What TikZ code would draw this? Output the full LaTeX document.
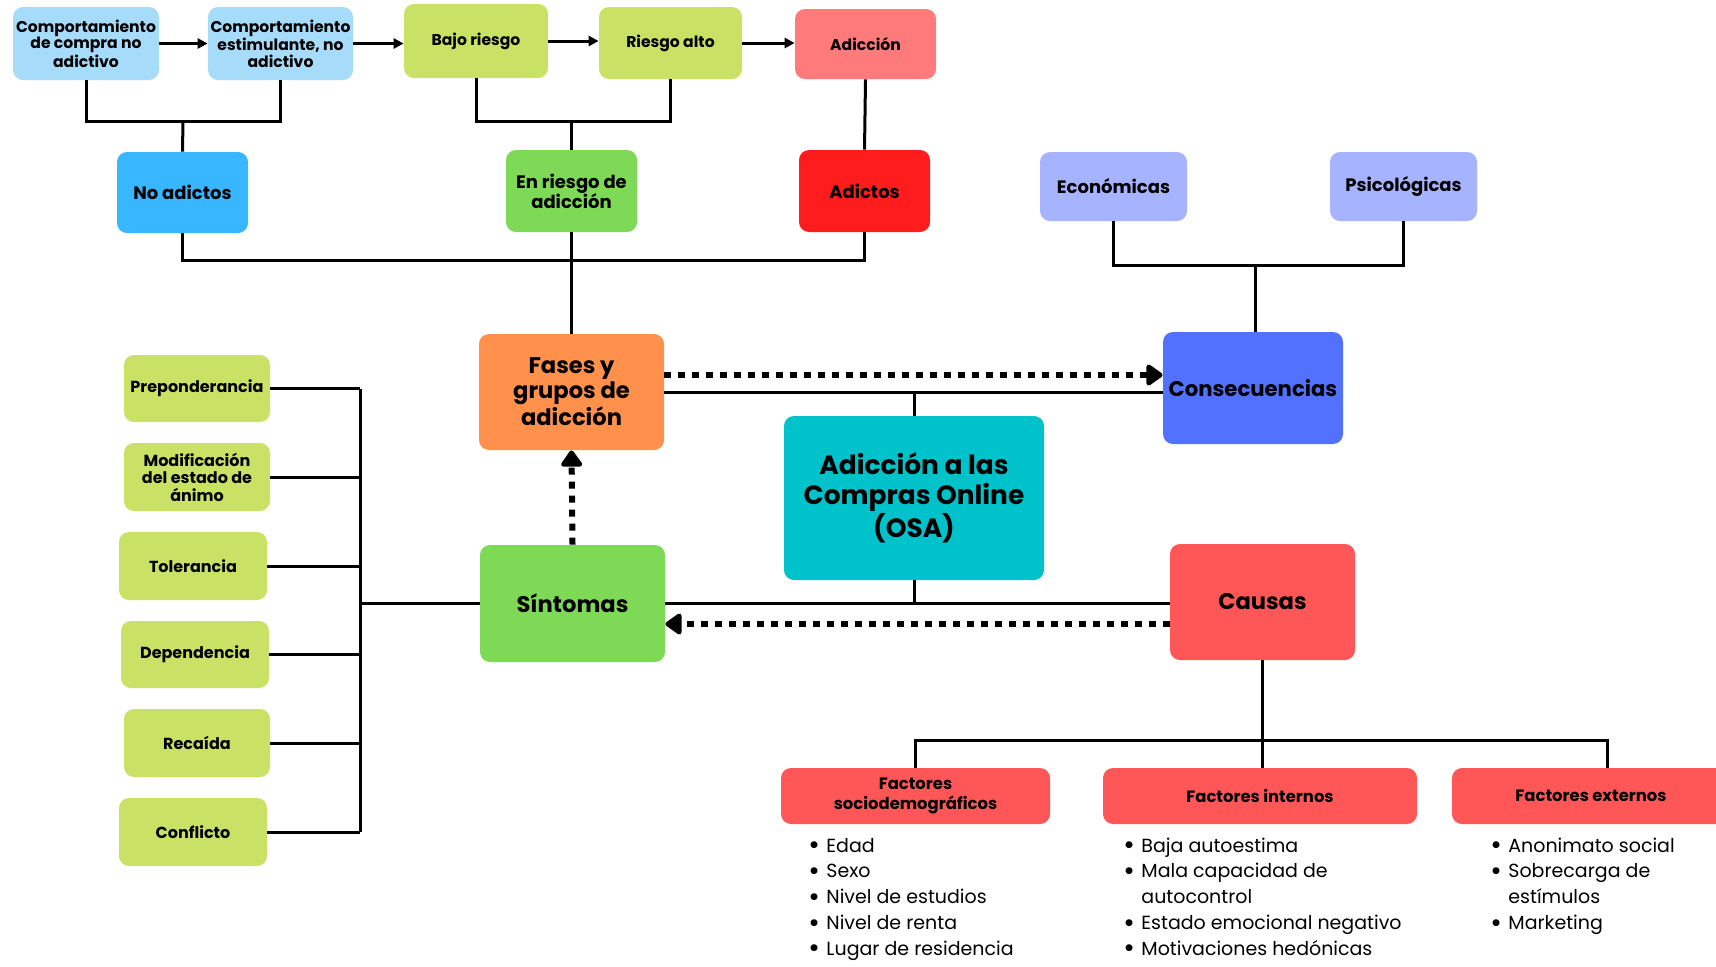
\documentclass[tikz,border=0pt]{standalone}
\usepackage{fontspec}
\setmainfont{Poppins}
\usetikzlibrary{arrows.meta,calc}
\definecolor{cLblue}{HTML}{A6DCFA}
\definecolor{cYgreen}{HTML}{C9E265}
\definecolor{cSalmon}{HTML}{FF7B7B}
\definecolor{cBlue}{HTML}{38B6FF}
\definecolor{cGreen}{HTML}{7ED957}
\definecolor{cRed}{HTML}{FF1C1C}
\definecolor{cLav}{HTML}{A6B4FF}
\definecolor{cOrange}{HTML}{FF914D}
\definecolor{cRoyal}{HTML}{5271FF}
\definecolor{cTeal}{HTML}{00C2CB}
\definecolor{cCoral}{HTML}{FF5757}
\newcommand\fsz[2]{\fontsize{#1}{#2}\selectfont\bfseries}
\newcommand\bul{\makebox[9pt][l]{\raisebox{-1.3pt}{\fontsize{14}{14}\selectfont\textbullet}}}
\newcommand\ind{\hspace*{9pt}}
\begin{document}
\begin{tikzpicture}[x=0.5pt,y=-0.5pt,
  box/.style={rounded corners=5pt, align=center, inner sep=1pt, text=black},
  conn/.style={line width=1.5pt},
  arr/.style={conn,-{Triangle[length=5pt,width=5pt]}},
  dotarr/.style={line width=3pt, dash pattern=on 3.5pt off 3.5pt,
     -{Triangle[length=9pt,width=12pt,round]}},
  list/.style={inner sep=0pt, anchor=base west, font=\fontsize{9.5}{12.9}\selectfont}
]
\clip (0,0) rectangle (1716,966);
\fill[white] (0,0) rectangle (1716,966);

% top row
\node[box,fill=cLblue,minimum width=73pt,minimum height=36.5pt,font=\fsz{7.8}{8.3}] (b1) at (86,43.5) {Comportamiento\\de compra no\\adictivo};
\node[box,fill=cLblue,minimum width=72.5pt,minimum height=36.5pt,font=\fsz{7.8}{8.3}] (b2) at (280.5,43.5) {Comportamiento\\estimulante, no\\adictivo};
\node[box,fill=cYgreen,minimum width=72pt,minimum height=37pt,font=\fsz{7.8}{8.3}] (bajo) at (476,41) {Bajo riesgo};
\node[box,fill=cYgreen,minimum width=71.5pt,minimum height=36pt,font=\fsz{7.8}{8.3}] (alto) at (670.5,43) {Riesgo alto};
\node[box,fill=cSalmon,minimum width=70.5pt,minimum height=35pt,font=\fsz{7.8}{8.3}] (adic) at (865.5,44) {Adicción};

% groups
\node[box,fill=cBlue,minimum width=65.5pt,minimum height=40.5pt,font=\fsz{9}{10}] (noad) at (182.5,192.5) {No adictos};
\node[box,fill=cGreen,minimum width=65.5pt,minimum height=41pt,font=\fsz{9}{10}] (riesgo) at (571.5,191) {En riesgo de\\adicción};
\node[box,fill=cRed,minimum width=65.5pt,minimum height=41pt,font=\fsz{9}{10}] (adictos) at (864.5,191) {Adictos};
\node[box,fill=cLav,minimum width=73.5pt,minimum height=34.5pt,font=\fsz{9}{10}] (econ) at (1113.5,186.5) {Económicas};
\node[box,fill=cLav,minimum width=73.5pt,minimum height=34.5pt,font=\fsz{9}{10}] (psico) at (1403.5,186.5) {Psicológicas};

% main
\node[box,fill=cOrange,minimum width=92.5pt,minimum height=58pt,font=\fsz{11.3}{12.5}] (fases) at (571.5,392) {Fases y\\grupos de\\adicción};
\node[box,fill=cRoyal,minimum width=90pt,minimum height=56pt,font=\fsz{10.6}{12.5}] (conse) at (1253,388) {Consecuencias};
\node[box,fill=cTeal,minimum width=130pt,minimum height=82pt,font=\fsz{13.2}{15}] (osa) at (914,498) {Adicción a las\\Compras Online\\(OSA)};
\node[box,fill=cGreen,minimum width=92.5pt,minimum height=58.5pt,font=\fsz{11.3}{12.5}] (sint) at (572.5,603.5) {Síntomas};
\node[box,fill=cCoral,minimum width=92.5pt,minimum height=58pt,font=\fsz{11.3}{12.5}] (causas) at (1262.5,602) {Causas};

% symptoms
\node[box,fill=cYgreen,minimum width=73pt,minimum height=33.5pt,font=\fsz{8}{8.75}] (prep) at (197,388.5) {Preponderancia};
\node[box,fill=cYgreen,minimum width=73pt,minimum height=34pt,font=\fsz{8}{8.75}] (modif) at (197,477) {Modificación\\del estado de\\ánimo};
\node[box,fill=cYgreen,minimum width=74pt,minimum height=34pt,font=\fsz{8}{8.75}] (toler) at (193,566) {Tolerancia};
\node[box,fill=cYgreen,minimum width=74pt,minimum height=33.5pt,font=\fsz{8}{8.75}] (depen) at (195,654.5) {Dependencia};
\node[box,fill=cYgreen,minimum width=73pt,minimum height=34pt,font=\fsz{8}{8.75}] (recai) at (197,743) {Recaída};
\node[box,fill=cYgreen,minimum width=74pt,minimum height=34pt,font=\fsz{8}{8.75}] (confl) at (193,832) {Conflicto};

% factors
\node[box,fill=cCoral,minimum width=134.5pt,minimum height=28pt,font=\fsz{8.2}{9.85}] (fsocio) at (915.5,796) {Factores\\sociodemográficos};
\node[box,fill=cCoral,minimum width=157pt,minimum height=28pt,font=\fsz{8.2}{9.85}] (fint) at (1260,796) {Factores internos};
\node[box,fill=cCoral,minimum width=139pt,minimum height=28pt,font=\fsz{8.2}{9.85}] (fext) at (1591,796) {Factores externos};

% lists
\node[list] (lsocio) at (808,852) {\begin{tabular}[t]{@{}l@{}}\bul Edad\\ \bul Sexo\\ \bul Nivel de estudios\\ \bul Nivel de renta\\ \bul Lugar de residencia\end{tabular}};
\node[list] (lint) at (1123,852) {\begin{tabular}[t]{@{}l@{}}\bul Baja autoestima\\ \bul Mala capacidad de\\ \ind autocontrol\\ \bul Estado emocional negativo\\ \bul Motivaciones hedónicas\end{tabular}};
\node[list] (lext) at (1490,852) {\begin{tabular}[t]{@{}l@{}}\bul Anonimato social\\ \bul Sobrecarga de\\ \ind estímulos\\ \bul Marketing\end{tabular}};

% junction coordinates
\coordinate (j1) at (183,121);
\coordinate (j2) at (571.5,121);
\coordinate (j3) at (571.5,260);
\coordinate (j4) at (1255,265);
\coordinate (bus) at (360,400);
\coordinate (j5) at (1262.5,740);
\coordinate (fextc) at (1607,768);

% top arrows
\draw[arr] (b1.east) -- (b1.east -| b2.west);
\draw[arr] (b2.east) -- (b2.east -| bajo.west);
\draw[arr] (bajo.east) -- (bajo.east -| alto.west);
\draw[arr] (alto.east) -- (alto.east -| adic.west);

% tree connectors
\draw[conn] (b1.south) |- (j1) -| (b2.south);
\draw[conn] (j1) -- (noad.north);
\draw[conn] (bajo.south) |- (j2) -| (alto.south);
\draw[conn] (j2) -- (riesgo.north);
\draw[conn] (adic.south) -- (adictos.north);
\draw[conn] (noad.south) |- (j3) -| (adictos.south);
\draw[conn] (riesgo.south) -- (fases.north);
\draw[conn] (econ.south) |- (j4) -| (psico.south);
\draw[conn] (j4) -- (j4 |- conse.north);

% central
\draw[conn] (fases.east) -- (fases.east -| conse.west);
\draw[conn] (osa.north) -- (osa.north |- fases.east);
\draw[dotarr] ($(fases.east)+(0,-17)$) -- ($(fases.east -| conse.west)+(0,-17)$);
\draw[conn] (sint.east) -- (sint.east -| causas.west);
\draw[conn] (osa.south) -- (osa.south |- sint.east);
\draw[dotarr] ($(causas.west)+(0,22)$) -- ($(causas.west -| sint.east)+(0,22)$);
\draw[dotarr] (sint.north) -- (fases.south);

% symptoms bus
\draw[conn] (prep.east) -- (prep.east -| bus);
\draw[conn] (modif.east) -- (modif.east -| bus);
\draw[conn] (toler.east) -- (toler.east -| bus);
\draw[conn] (depen.east) -- (depen.east -| bus);
\draw[conn] (recai.east) -- (recai.east -| bus);
\draw[conn] (confl.east) -- (confl.east -| bus);
\draw[conn] (prep.east -| bus) -- (confl.east -| bus);
\draw[conn] (sint.west) -- (sint.west -| bus);

% causes tree
\draw[conn] (causas.south) -- (causas.south |- fint.north);
\draw[conn] (fsocio.north) |- (fextc |- j5) -- (fextc);
\end{tikzpicture}
\end{document}
